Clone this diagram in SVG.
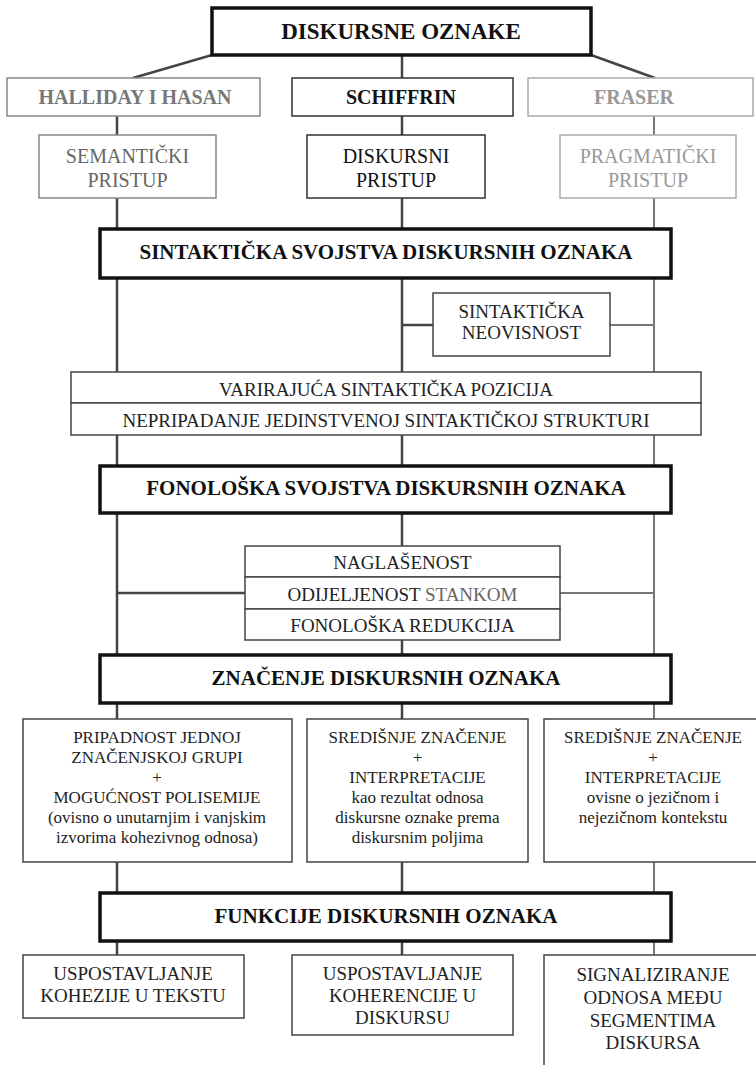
<svg xmlns="http://www.w3.org/2000/svg" width="756" height="1065" viewBox="0 0 756 1065" font-family="Liberation Serif, serif">
<style>
text{text-anchor:middle;fill:#222}
.hb{fill:#fff;stroke:#111;stroke-width:3.5}
.b{fill:#fff;stroke:#444;stroke-width:1.5}
.bg{fill:#fff;stroke:#888;stroke-width:1.5}
.bl{fill:#fff;stroke:#aaa;stroke-width:1.5}
.h{font-weight:bold;font-size:21px;fill:#111}
.h2{font-weight:bold;font-size:20px}
.t20{font-size:20px}
.t19{font-size:19px}
.t17{font-size:17px}
.c{fill:none;stroke:#444;stroke-width:2.5}
.cg{fill:none;stroke:#777;stroke-width:2}
</style>
<g id="connectors">
<line class="c" x1="212" y1="55" x2="133" y2="78"/>
<line class="c" x1="402" y1="55" x2="402" y2="78"/>
<line class="c" x1="591" y1="55" x2="655" y2="78"/>
<line class="c" x1="117" y1="116" x2="117" y2="135"/>
<line class="c" x1="402" y1="116" x2="402" y2="135"/>
<line class="cg" x1="654" y1="116" x2="654" y2="135"/>
<line class="c" x1="117" y1="198" x2="117" y2="955"/>
<line class="c" x1="402" y1="198" x2="402" y2="955"/>
<line class="cg" x1="654" y1="198" x2="654" y2="955"/>
<line class="c" x1="402" y1="325" x2="433" y2="325"/>
<line class="cg" x1="610" y1="325" x2="654" y2="325"/>
<line class="c" x1="117" y1="593" x2="245" y2="593"/>
<line class="cg" x1="560" y1="593" x2="654" y2="593"/>
</g>
<g id="n-diskursne-oznake">
<rect class="hb" x="212" y="8" width="379" height="47"/>
<text class="h" style="font-size:23px" x="401" y="39">DISKURSNE OZNAKE</text>
</g>
<g id="n-halliday">
<rect class="bg" x="7" y="78" width="253" height="38"/>
<text class="h2" style="fill:#777" x="135" y="104">HALLIDAY I HASAN</text>
</g>
<g id="n-schiffrin">
<rect class="b" x="292" y="78" width="221" height="38" style="stroke:#333"/>
<text class="h2" style="fill:#111" x="401" y="104">SCHIFFRIN</text>
</g>
<g id="n-fraser">
<rect class="bl" x="528" y="78" width="225" height="38"/>
<text class="h2" style="fill:#999" x="634" y="104">FRASER</text>
</g>
<g id="n-semanticki">
<rect class="bg" x="39" y="135" width="177" height="63"/>
<text class="t20" style="fill:#666" x="127.5" y="163">SEMANTIČKI</text>
<text class="t20" style="fill:#666" x="127.5" y="187">PRISTUP</text>
</g>
<g id="n-diskursni">
<rect class="b" x="307" y="135" width="178" height="63" style="stroke:#333"/>
<text class="t20" style="fill:#111" x="396" y="163">DISKURSNI</text>
<text class="t20" style="fill:#111" x="396" y="187">PRISTUP</text>
</g>
<g id="n-pragmaticki">
<rect class="bl" x="560" y="135" width="176" height="63"/>
<text class="t20" style="fill:#999" x="648" y="163">PRAGMATIČKI</text>
<text class="t20" style="fill:#999" x="648" y="187">PRISTUP</text>
</g>
<g id="n-sintakticka-svojstva">
<rect class="hb" x="100" y="229" width="571" height="49"/>
<text class="h" x="386" y="259">SINTAKTIČKA SVOJSTVA DISKURSNIH OZNAKA</text>
</g>
<g id="n-neovisnost">
<rect class="b" x="433" y="293" width="177" height="63"/>
<text class="t19" x="521.5" y="318">SINTAKTIČKA</text>
<text class="t19" x="521.5" y="339">NEOVISNOST</text>
</g>
<g id="n-pozicija">
<rect class="b" x="71" y="372" width="630" height="31"/>
<rect class="b" x="71" y="403" width="630" height="32"/>
<text class="t19" x="386" y="396">VARIRAJUĆA SINTAKTIČKA POZICIJA</text>
<text class="t19" x="386" y="427">NEPRIPADANJE JEDINSTVENOJ SINTAKTIČKOJ STRUKTURI</text>
</g>
<g id="n-fonoloska-svojstva">
<rect class="hb" x="100" y="466" width="571" height="47"/>
<text class="h" x="386" y="495">FONOLOŠKA SVOJSTVA DISKURSNIH OZNAKA</text>
</g>
<g id="n-fonoloski">
<rect class="b" x="245" y="546" width="315" height="31"/>
<rect class="b" x="245" y="577" width="315" height="32"/>
<rect class="b" x="245" y="609" width="315" height="31"/>
<text class="t19" x="402.5" y="569">NAGLAŠENOST</text>
<text class="t19" x="402.5" y="601">ODIJELJENOST <tspan style="fill:#666">STANKOM</tspan></text>
<text class="t19" x="402.5" y="632">FONOLOŠKA REDUKCIJA</text>
</g>
<g id="n-znacenje">
<rect class="hb" x="100" y="655" width="571" height="48"/>
<text class="h" x="386" y="685">ZNAČENJE DISKURSNIH OZNAKA</text>
</g>
<g id="n-znacenje-halliday">
<rect class="b" x="23" y="719" width="269" height="143"/>
<text class="t17" x="157" y="743">PRIPADNOST JEDNOJ</text>
<text class="t17" x="157" y="763">ZNAČENJSKOJ GRUPI</text>
<text class="t17" x="157" y="783">+</text>
<text class="t17" x="157" y="803">MOGUĆNOST POLISEMIJE</text>
<text class="t17" x="157" y="823">(ovisno o unutarnjim i vanjskim</text>
<text class="t17" x="157" y="843">izvorima kohezivnog odnosa)</text>
</g>
<g id="n-znacenje-schiffrin">
<rect class="b" x="307" y="719" width="221" height="143"/>
<text class="t17" x="417.5" y="743">SREDIŠNJE ZNAČENJE</text>
<text class="t17" x="417.5" y="763">+</text>
<text class="t17" x="417.5" y="783">INTERPRETACIJE</text>
<text class="t17" x="417.5" y="803">kao rezultat odnosa</text>
<text class="t17" x="417.5" y="823">diskursne oznake prema</text>
<text class="t17" x="417.5" y="843">diskursnim poljima</text>
</g>
<g id="n-znacenje-fraser">
<rect class="b" x="544" y="719" width="216" height="143"/>
<text class="t17" x="653" y="743">SREDIŠNJE ZNAČENJE</text>
<text class="t17" x="653" y="763">+</text>
<text class="t17" x="653" y="783">INTERPRETACIJE</text>
<text class="t17" x="653" y="803">ovisne o jezičnom i</text>
<text class="t17" x="653" y="823">nejezičnom kontekstu</text>
</g>
<g id="n-funkcije">
<rect class="hb" x="100" y="893" width="571" height="48"/>
<text class="h" x="386" y="923">FUNKCIJE DISKURSNIH OZNAKA</text>
</g>
<g id="n-kohezija">
<rect class="b" x="23" y="955" width="221" height="63"/>
<text class="t19" x="133" y="980">USPOSTAVLJANJE</text>
<text class="t19" x="133" y="1002">KOHEZIJE U TEKSTU</text>
</g>
<g id="n-koherencija">
<rect class="b" x="292" y="955" width="221" height="80"/>
<text class="t19" x="402.5" y="980">USPOSTAVLJANJE</text>
<text class="t19" x="402.5" y="1002">KOHERENCIJE U</text>
<text class="t19" x="402.5" y="1024">DISKURSU</text>
</g>
<g id="n-signaliziranje">
<rect class="b" x="544" y="955" width="216" height="115"/>
<text class="t19" x="653" y="981">SIGNALIZIRANJE</text>
<text class="t19" x="653" y="1004">ODNOSA MEĐU</text>
<text class="t19" x="653" y="1027">SEGMENTIMA</text>
<text class="t19" x="653" y="1049">DISKURSA</text>
</g>
</svg>
